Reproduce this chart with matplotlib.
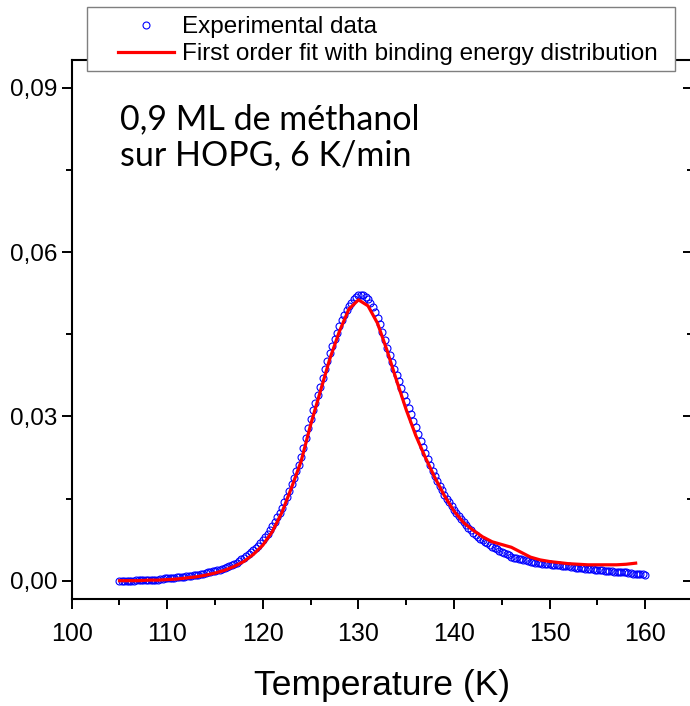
import numpy as np
import matplotlib
matplotlib.use("Agg")
import matplotlib.pyplot as plt
from matplotlib.ticker import MultipleLocator, FixedLocator, FuncFormatter
from matplotlib.patches import Rectangle

plt.rcParams["font.family"] = ["Liberation Sans", "DejaVu Sans"]

# Measured desorption signal, sampled every 0.25 K starting at 105 K
exp_t_start = 105.0
exp_t_step = 0.25
exp_signal = [
    0.0000, 0.0000, 0.0000, 0.0000, 0.0000, 0.0000, 0.0000, 0.0001,
    0.0001, 0.0001, 0.0001, 0.0001, 0.0001, 0.0002, 0.0002, 0.0002,
    0.0002, 0.0003, 0.0003, 0.0004, 0.0004, 0.0004, 0.0005, 0.0005,
    0.0006, 0.0006, 0.0007, 0.0007, 0.0008, 0.0008, 0.0009, 0.0010,
    0.0011, 0.0011, 0.0012, 0.0013, 0.0014, 0.0015, 0.0016, 0.0017,
    0.0018, 0.0019, 0.0020, 0.0021, 0.0023, 0.0025, 0.0027, 0.0029,
    0.0031, 0.0033, 0.0036, 0.0039, 0.0042, 0.0045, 0.0049, 0.0052,
    0.0056, 0.0060, 0.0064, 0.0069, 0.0074, 0.0080, 0.0086, 0.0093,
    0.0100, 0.0108, 0.0116, 0.0124, 0.0133, 0.0143, 0.0153, 0.0164,
    0.0176, 0.0188, 0.0200, 0.0212, 0.0225, 0.0242, 0.0260, 0.0278,
    0.0296, 0.0311, 0.0325, 0.0340, 0.0354, 0.0370, 0.0386, 0.0401,
    0.0416, 0.0429, 0.0441, 0.0453, 0.0465, 0.0476, 0.0486, 0.0494,
    0.0502, 0.0508, 0.0514, 0.0518, 0.0521, 0.0522, 0.0522, 0.0519,
    0.0514, 0.0507, 0.0499, 0.0490, 0.0480, 0.0468, 0.0455, 0.0440,
    0.0425, 0.0412, 0.0399, 0.0387, 0.0375, 0.0364, 0.0352, 0.0340,
    0.0328, 0.0316, 0.0304, 0.0292, 0.0280, 0.0268, 0.0256, 0.0244,
    0.0233, 0.0222, 0.0211, 0.0201, 0.0191, 0.0182, 0.0173, 0.0165,
    0.0157, 0.0150, 0.0143, 0.0136, 0.0130, 0.0124, 0.0118, 0.0112,
    0.0107, 0.0102, 0.0097, 0.0092, 0.0088, 0.0084, 0.0080, 0.0077,
    0.0074, 0.0071, 0.0068, 0.0065, 0.0062, 0.0059, 0.0057, 0.0054,
    0.0052, 0.0050, 0.0048, 0.0046, 0.0044, 0.0042, 0.0041, 0.0040,
    0.0039, 0.0038, 0.0037, 0.0036, 0.0035, 0.0034, 0.0033, 0.0033,
    0.0032, 0.0031, 0.0031, 0.0030, 0.0030, 0.0029, 0.0029, 0.0028,
    0.0028, 0.0027, 0.0027, 0.0026, 0.0026, 0.0025, 0.0025, 0.0024,
    0.0024, 0.0023, 0.0023, 0.0022, 0.0022, 0.0021, 0.0021, 0.0020,
    0.0020, 0.0019, 0.0019, 0.0018, 0.0018, 0.0017, 0.0017, 0.0016,
    0.0016, 0.0016, 0.0016, 0.0015, 0.0015, 0.0014, 0.0014, 0.0013,
    0.0013, 0.0012, 0.0012, 0.0012, 0.0011,
]
exp_temperature = exp_t_start + exp_t_step * np.arange(len(exp_signal))

# First-order desorption fit with a binding-energy distribution
fit_temperature = [
    105, 106, 107, 108, 109, 110, 111, 112, 113, 114, 115, 116, 117, 118, 119,
    120, 121, 122, 123, 124, 125, 126, 127, 128, 129, 130, 131, 132, 133, 134,
    135, 136, 137, 138, 139, 140, 141, 142, 143, 144, 145, 146, 147, 148, 149,
    150, 151, 152, 153, 154, 155, 156, 157, 158, 159,
]
fit_signal = [
    0.0000, 0.0000, 0.0000, 0.0001, 0.0001, 0.0002, 0.0003, 0.0005, 0.0007, 0.0010,
    0.0014, 0.0019, 0.0026, 0.0035, 0.0048, 0.0065, 0.0090, 0.0125, 0.0170, 0.0218,
    0.0285, 0.0345, 0.0405, 0.0455, 0.0496, 0.0513, 0.0502, 0.0470, 0.0420, 0.0365,
    0.0312, 0.0265, 0.0225, 0.0188, 0.0155, 0.0127, 0.0106, 0.0092, 0.0080, 0.0071,
    0.0066, 0.0061, 0.0052, 0.0043, 0.0038, 0.0035, 0.0033, 0.0031, 0.0030, 0.0029,
    0.0029, 0.0029, 0.0029, 0.0030, 0.0032,
]

y_major_ticks = [0.00, 0.03, 0.06, 0.09]
x_major_ticks = [100, 110, 120, 130, 140, 150, 160]
x_minor_ticks = [105, 115, 125, 135, 145, 155]

W, H = 690, 706
fig = plt.figure(figsize=(W / 100, H / 100), dpi=100)

left_px, right_px, top_px, bottom_px = 71.7, 693.0, 60.0, 599.3
ax = fig.add_axes([left_px / W, 1 - bottom_px / H,
                   (right_px - left_px) / W, (bottom_px - top_px) / H])

ax.plot(exp_temperature, exp_signal, linestyle="none", marker="o",
        markersize=5.0, markerfacecolor="none", markeredgecolor="#0000ff",
        markeredgewidth=0.8, label="Experimental data", zorder=2)
ax.plot(fit_temperature, fit_signal, color="#ff0000", linewidth=2.3,
        label="First order fit with binding energy distribution", zorder=3)

ax.set_xlim(100, 165)
ax.set_ylim(-0.0034, 0.0951)

ax.xaxis.set_major_locator(FixedLocator(x_major_ticks))
ax.xaxis.set_minor_locator(FixedLocator(x_minor_ticks))
ax.yaxis.set_major_locator(FixedLocator(y_major_ticks))
ax.yaxis.set_minor_locator(MultipleLocator(0.015))
ax.yaxis.set_major_formatter(FuncFormatter(lambda v, p: f"{v:.2f}".replace(".", ",")))

for s in ax.spines.values():
    s.set_linewidth(1.5)

ax.tick_params(which="both", direction="out", width=1.4, top=False, right=False)
ax.tick_params(which="major", length=7.2)
ax.tick_params(which="minor", length=4.3)
ax.tick_params(axis="x", which="major", labelsize=18, pad=9)
ax.tick_params(axis="y", which="major", labelsize=17.5, pad=3)

# Inward ticks along the right-hand edge
sec = ax.secondary_yaxis("right")
sec.yaxis.set_major_locator(FixedLocator(y_major_ticks))
sec.yaxis.set_minor_locator(MultipleLocator(0.015))
sec.tick_params(which="both", direction="in", width=1.4, labelright=False)
sec.tick_params(which="major", length=7.2)
sec.tick_params(which="minor", length=4.3)
sec.spines["right"].set_linewidth(1.5)

ax.set_xlabel("Temperature (K)", fontsize=25.5, labelpad=17)

txt_kw = dict(fontsize=24.5, family=["Lato", "DejaVu Sans"], va="baseline", ha="left")
fig.text(119.5 / W, 1 - 129.3 / H, "0,9 ML de méthanol", **txt_kw)
fig.text(119.5 / W, 1 - 165.0 / H, "sur HOPG, 6 K/min", **txt_kw)

# Legend frame overlapping the top of the axes
frame = Rectangle((87 / W, 1 - 71 / H), (675 - 87) / W, (71 - 7) / H,
                  transform=fig.transFigure, facecolor="white",
                  edgecolor="#7f7f7f", linewidth=1.0, zorder=4)
fig.patches.append(frame)

handles, labels = ax.get_legend_handles_labels()
leg = fig.legend(handles, labels, loc="upper left",
                 bbox_to_anchor=(117.5 / W, 1 - 16 / H), frameon=False,
                 fontsize=17.5, borderpad=0, borderaxespad=0,
                 handlelength=2.33, handletextpad=0.33, labelspacing=0.22,
                 numpoints=1)
leg.set_zorder(5)

fig.savefig("out.png", dpi=100)
